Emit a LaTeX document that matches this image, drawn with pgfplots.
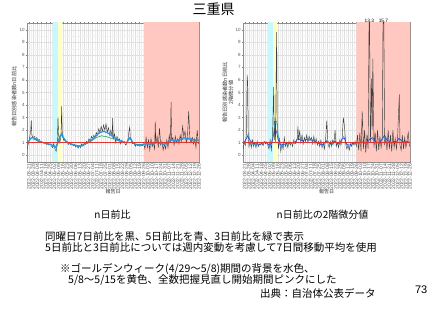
\documentclass[border=0pt]{standalone}
\usepackage{pgfplots}
\pgfplotsset{compat=1.18}
\usepackage{fontspec}
\setmainfont{Liberation Sans}
\newfontfamily\jp{Noto Sans CJK JP}
\definecolor{gwblue}{RGB}{200,248,255}
\definecolor{gwyellow}{RGB}{255,255,200}
\definecolor{pinkbg}{RGB}{255,200,192}
\definecolor{lineblue}{RGB}{40,150,230}
\definecolor{linegreen}{RGB}{40,160,90}
\definecolor{linered}{RGB}{225,55,50}
\definecolor{darkblue}{RGB}{40,60,220}
\definecolor{tealc}{RGB}{60,170,200}
\pgfplotsset{panel/.style={
  scale only axis, height=139pt, xmin=0, xmax=283, ymin=-0.55, ymax=10.55,
  axis line style={black!45, line width=0.5pt},
  grid=both, major grid style={black!12, line width=0.3pt}, minor grid style={black!6, line width=0.2pt},
  minor x tick num=1, minor y tick num=1,
  ytick={0,...,10}, xtick={3,10,...,283},
  xticklabels={2022-03-21,2022-03-28,2022-04-04,2022-04-11,2022-04-18,2022-04-25,2022-05-02,2022-05-09,2022-05-16,2022-05-23,2022-05-30,2022-06-06,2022-06-13,2022-06-20,2022-06-27,2022-07-04,2022-07-11,2022-07-18,2022-07-25,2022-08-01,2022-08-08,2022-08-15,2022-08-22,2022-08-29,2022-09-05,2022-09-12,2022-09-19,2022-09-26,2022-10-03,2022-10-10,2022-10-17,2022-10-24,2022-10-31,2022-11-07,2022-11-14,2022-11-21,2022-11-28,2022-12-05,2022-12-12,2022-12-19,2022-12-26},
  tick align=outside, major tick length=1.2pt, minor tick length=0pt, tick style={black!50, line width=0.3pt},
  /pgf/number format/assume math mode=true,
  x tick label style={rotate=90, anchor=east, font=\fontsize{5}{5}\selectfont, text=black!65, inner sep=0.8pt},
  y tick label style={font=\fontsize{4.5}{5}\selectfont, text=black!65, inner sep=1pt},
  xlabel={報告日}, xlabel style={font=\fontsize{5}{6}\selectfont\jp, text=black!80, at={(axis description cs:0.5,-0.216)}, anchor=center},
}}
\begin{document}
\begin{tikzpicture}[x=1pt,y=1pt]
\useasboundingbox (0,0) rectangle (427,320);
\fill[white] (0,0) rectangle (427,320);
\node[font=\jp\fontsize{14}{16}\selectfont] at (213.5,311) {三重県};
% left panel
\begin{axis}[panel, at={(27pt,158pt)}, anchor=south west, width=172pt,
  ylabel={報告日別感染者数n日前比},
  ylabel style={font=\fontsize{5.2}{6}\selectfont\jp, text=black!80, at={(axis description cs:-0.075,0.47)}, anchor=center}]
\addplot[draw=none, fill=gwblue] coordinates {(42,-1) (42,12) (51,12) (51,-1) (42,-1)};
\addplot[draw=none, fill=gwyellow] coordinates {(51,-1) (51,12) (58,12) (58,-1) (51,-1)};
\addplot[draw=none, fill=pinkbg] coordinates {(192,-1) (192,12) (290,12) (290,-1) (192,-1)};
\addplot[black!80, line width=0.4pt] coordinates {(0,0.45)(2,0.9)(4,1.3)(6,1.9)(7,2.8)(8,1.6)(10,1.4)(12,1.5)(14,1.3)(16,1.4)(18,1.2)(20,1.25)(22,1.1)(24,1.05)(26,1.0)(28,0.95)(30,1.0)(32,0.85)(34,0.95)(36,0.8)(38,0.9)(40,0.75)(42,0.6)(44,0.9)(46,0.5)(48,0.3)(50,1.2)(51,3.05)(52,1.6)(54,1.0)(56,1.5)(57,3.9)(58,1.9)(60,1.2)(62,1.3)(64,1.05)(66,1.1)(68,0.85)(70,1.0)(72,0.8)(74,0.9)(76,0.75)(78,0.85)(80,0.65)(82,0.8)(84,0.55)(86,0.75)(88,0.6)(90,0.9)(92,0.7)(94,0.95)(96,0.85)(98,1.1)(100,1.0)(102,1.3)(104,1.1)(106,1.5)(108,1.3)(110,1.6)(112,1.4)(114,1.8)(116,1.6)(118,2.1)(120,1.8)(122,2.3)(124,1.9)(126,2.4)(128,2.0)(130,2.5)(132,1.8)(134,2.2)(136,1.6)(138,2.0)(140,1.5)(141,2.95)(142,1.3)(144,1.7)(146,1.0)(148,1.5)(150,1.2)(152,1.3)(154,0.9)(156,1.2)(158,1.0)(160,1.1)(162,0.8)(164,0.9)(166,1.2)(168,2.0)(169,2.25)(170,1.4)(172,1.1)(174,0.9)(176,1.0)(178,0.7)(180,0.85)(182,0.75)(184,0.85)(186,0.7)(188,0.8)(190,0.75)(192,0.9)(194,0.5)(196,1.4)(198,0.6)(200,1.2)(202,0.4)(204,1.3)(206,0.7)(208,1.0)(210,0.5)(211,2.7)(212,0.9)(214,1.5)(216,0.6)(218,2.15)(220,0.8)(222,1.1)(224,0.4)(226,0.9)(228,0.5)(230,1.2)(232,0.6)(234,1.6)(236,1.0)(237,4.25)(238,1.2)(240,1.4)(242,0.8)(244,1.5)(246,1.0)(248,1.3)(250,0.9)(252,1.6)(254,1.1)(256,2.3)(258,1.5)(260,1.9)(262,1.0)(264,1.4)(266,3.5)(268,1.3)(270,1.0)(272,1.4)(274,0.9)(276,1.3)(278,0.6)(280,2.0)(282,0.9)};
\addplot[linegreen, line width=0.6pt] coordinates {(0,0.8)(3,1.15)(6,1.3)(9,1.3)(12,1.25)(15,1.2)(18,1.1)(21,1.05)(24,1.0)(27,1.0)(30,0.95)(33,0.9)(36,0.9)(39,0.85)(42,0.8)(45,0.75)(48,0.7)(51,1.1)(54,1.4)(57,1.6)(60,1.3)(63,1.1)(66,1.0)(69,0.95)(72,0.9)(75,0.85)(78,0.8)(81,0.8)(84,0.75)(87,0.75)(90,0.8)(93,0.85)(96,0.9)(99,0.95)(102,1.05)(105,1.1)(108,1.2)(111,1.3)(114,1.4)(117,1.45)(120,1.5)(123,1.55)(126,1.5)(129,1.5)(132,1.45)(135,1.4)(138,1.35)(141,1.35)(144,1.3)(147,1.2)(150,1.15)(153,1.1)(156,1.05)(159,1.0)(162,1.0)(165,1.05)(168,1.3)(171,1.2)(174,1.0)(177,0.9)(180,0.85)(183,0.85)(186,0.85)(189,0.85)(192,0.9)(195,0.9)(198,0.95)(201,0.9)(204,0.9)(207,0.95)(210,0.95)(213,1.0)(216,1.0)(219,0.95)(222,0.9)(225,0.9)(228,0.95)(231,1.0)(234,1.1)(237,1.2)(240,1.15)(243,1.1)(246,1.15)(249,1.15)(252,1.2)(255,1.25)(258,1.3)(261,1.3)(264,1.25)(267,1.3)(270,1.25)(273,1.2)(276,1.2)(279,1.2)(282,1.15)};
\addplot[lineblue, line width=1.2pt] coordinates {(0,0.7)(3,1.1)(6,1.35)(9,1.4)(12,1.35)(15,1.25)(18,1.15)(21,1.1)(24,1.05)(27,1.0)(30,0.95)(33,0.9)(36,0.88)(39,0.85)(42,0.75)(45,0.7)(48,0.6)(51,1.0)(54,1.5)(57,1.7)(60,1.4)(63,1.15)(66,1.05)(69,0.95)(72,0.9)(75,0.85)(78,0.8)(81,0.75)(84,0.7)(87,0.7)(90,0.75)(93,0.8)(96,0.9)(99,0.95)(102,1.05)(105,1.15)(108,1.3)(111,1.4)(114,1.55)(117,1.7)(120,1.8)(123,1.85)(126,1.9)(129,1.85)(132,1.8)(135,1.7)(138,1.6)(141,1.5)(144,1.4)(147,1.3)(150,1.2)(153,1.15)(156,1.1)(159,1.05)(162,1.0)(165,1.05)(168,1.4)(171,1.3)(174,1.0)(177,0.9)(180,0.85)(183,0.8)(186,0.8)(189,0.8)(192,0.85)(195,0.9)(198,0.95)(201,0.85)(204,0.9)(207,0.9)(210,0.95)(213,1.0)(216,1.0)(219,0.95)(222,0.9)(225,0.85)(228,0.9)(231,1.0)(234,1.1)(237,1.25)(240,1.2)(243,1.15)(246,1.15)(249,1.2)(252,1.25)(255,1.3)(258,1.4)(261,1.35)(264,1.3)(267,1.35)(270,1.3)(273,1.25)(276,1.2)(279,1.25)(282,1.2)};
\addplot[linered, line width=0.8pt] coordinates {(0,1) (283,1)};
\end{axis}
% right panel
\begin{axis}[panel, at={(243pt,158pt)}, anchor=south west, width=167pt,
  ylabel={報告日別感染者数n日前比\\2階微分値},
  ylabel style={font=\fontsize{5.2}{6}\selectfont\jp, text=black!80, align=center, at={(axis description cs:-0.09,0.5)}, anchor=center}]
\addplot[draw=none, fill=gwblue] coordinates {(42,-1) (42,12) (51,12) (51,-1) (42,-1)};
\addplot[draw=none, fill=gwyellow] coordinates {(51,-1) (51,12) (58,12) (58,-1) (51,-1)};
\addplot[draw=none, fill=pinkbg] coordinates {(192,-1) (192,12) (290,12) (290,-1) (192,-1)};
\addplot[black!75, line width=0.45pt] coordinates {(0,0.5)(2,1.0)(4,0.8)(6,1.8)(7,6.4)(8,5.7)(9,1.5)(10,0.7)(12,1.1)(14,0.6)(16,1.2)(18,0.7)(20,1.0)(22,0.6)(24,1.1)(26,0.7)(28,0.9)(30,0.8)(32,1.0)(34,0.75)(36,1.1)(38,0.9)(40,1.05)(42,0.8)(44,0.5)(46,1.2)(48,0.4)(50,1.5)(52,5.45)(53,1.2)(54,2.7)(55,1.0)(57,9.85)(58,2.6)(60,0.5)(62,1.3)(64,0.3)(66,0.9)(68,0.5)(70,1.4)(72,0.7)(74,1.0)(76,0.6)(78,1.1)(80,0.8)(82,1.0)(84,0.7)(86,1.2)(88,0.9)(90,1.0)(92,1.3)(93,2.3)(94,1.2)(96,1.9)(98,1.0)(100,1.6)(102,0.9)(104,1.4)(106,1.1)(108,1.6)(110,1.0)(112,1.5)(114,1.2)(116,1.4)(118,0.9)(120,1.5)(122,0.9)(124,1.3)(126,0.8)(128,1.1)(130,0.7)(132,1.2)(134,0.6)(136,1.0)(138,0.5)(140,1.3)(142,2.75)(144,0.9)(146,0.6)(148,1.1)(150,0.7)(152,1.2)(154,0.9)(156,2.0)(158,0.7)(160,1.0)(162,0.6)(164,1.2)(166,0.8)(168,1.3)(170,3.0)(172,2.3)(174,0.9)(176,0.5)(178,0.8)(180,0.4)(182,0.9)(184,0.7)(186,1.0)(188,0.8)(190,1.1)(192,0.7)(194,1.6)(196,0.4)(198,1.8)(200,0.3)(202,3.5)(204,0.5)(206,2.0)(208,0.2)(210,1.6)(212,0.5)(214,13.3)(216,1.0)(218,6.1)(219,2.0)(220,7.7)(222,0.6)(224,1.8)(226,0.3)(228,2.0)(230,0.4)(232,1.5)(234,0.6)(236,1.3)(238,15.7)(240,0.8)(242,1.4)(244,0.4)(246,2.0)(248,0.5)(250,1.6)(252,0.3)(254,2.0)(256,0.6)(258,1.3)(260,0.5)(262,1.4)(264,3.9)(265,4.85)(266,0.8)(268,0.4)(270,1.6)(272,0.5)(274,1.4)(276,0.6)(278,1.2)(280,1.8)(282,0.7)};
\addplot[tealc, line width=0.6pt] coordinates {(0,0.8)(3,1.0)(6,1.4)(9,1.7)(12,1.1)(15,0.9)(18,0.8)(21,0.9)(24,0.85)(27,0.8)(30,0.9)(33,0.95)(36,1.0)(39,1.05)(42,0.8)(45,0.6)(48,0.9)(51,1.5)(54,2.6)(57,2.7)(60,1.5)(63,0.7)(66,0.6)(69,0.8)(72,0.9)(75,0.85)(78,0.9)(81,0.95)(84,0.9)(87,0.95)(90,1.1)(93,1.4)(96,1.35)(99,1.2)(102,1.15)(105,1.25)(108,1.3)(111,1.2)(114,1.3)(117,1.25)(120,1.2)(123,1.1)(126,1.0)(129,0.9)(132,0.8)(135,0.75)(138,0.85)(141,1.2)(144,1.1)(147,0.85)(150,0.8)(153,0.9)(156,1.2)(159,0.9)(162,0.8)(165,0.9)(168,1.3)(171,1.5)(174,1.0)(177,0.7)(180,0.65)(183,0.8)(186,0.9)(189,0.95)(192,1.0)(195,0.95)(198,0.9)(201,1.1)(204,1.0)(207,0.9)(210,1.0)(213,1.2)(216,1.4)(219,1.3)(222,1.1)(225,1.0)(228,0.95)(231,1.0)(234,1.1)(237,1.5)(240,1.3)(243,1.1)(246,1.0)(249,1.1)(252,1.0)(255,0.95)(258,1.1)(261,1.0)(264,1.3)(267,1.2)(270,1.0)(273,1.05)(276,1.0)(279,1.1)(282,1.0)};
\addplot[darkblue, line width=0.5pt] coordinates {(0,0.9)(4,1.2)(8,1.5)(12,1.2)(16,0.95)(20,0.9)(24,0.9)(28,0.85)(32,0.95)(36,1.0)(40,1.0)(44,0.8)(48,0.9)(52,1.6)(56,2.0)(60,1.2)(64,0.8)(68,0.85)(72,0.9)(76,0.95)(80,0.95)(84,1.0)(88,1.0)(92,1.3)(96,1.25)(100,1.15)(104,1.2)(108,1.25)(112,1.2)(116,1.2)(120,1.15)(124,1.05)(128,0.95)(132,0.85)(136,0.85)(140,1.1)(144,1.05)(148,0.9)(152,0.95)(156,1.1)(160,0.9)(164,0.95)(168,1.3)(172,1.35)(176,0.85)(180,0.8)(184,0.9)(188,0.95)(192,1.0)(196,0.95)(200,1.05)(204,1.0)(208,0.95)(212,1.1)(216,1.3)(220,1.4)(224,1.1)(228,1.0)(232,1.05)(236,1.3)(240,1.6)(244,1.2)(248,1.1)(252,1.0)(256,1.1)(260,1.05)(264,1.35)(268,1.2)(272,1.05)(276,1.05)(280,1.1)};
\addplot[linered, line width=0.8pt] coordinates {(0,1) (283,1)};
\coordinate (la) at (axis cs:214,10.55);
\coordinate (lb) at (axis cs:238,10.55);
\end{axis}
\node[anchor=south, font=\fontsize{4.8}{5}\selectfont, inner sep=0.6pt] at (la) {13.3};
\node[anchor=south, font=\fontsize{4.8}{5}\selectfont, inner sep=0.6pt] at (lb) {15.7};
% texts
\node[font=\jp\fontsize{10}{12}\selectfont] at (112.5,105) {n日前比};
\node[font=\jp\fontsize{10}{12}\selectfont] at (322.5,105) {n日前比の2階微分値};
\node[font=\jp\fontsize{10.5}{12}\selectfont, anchor=west, inner sep=0pt] at (45,83) {同曜日7日前比を黒、5日前比を青、3日前比を緑で表示};
\node[font=\jp\fontsize{10.5}{12}\selectfont, anchor=west, inner sep=0pt] at (45,72.5) {5日前比と3日前比については週内変動を考慮して7日間移動平均を使用};
\node[font=\jp\fontsize{10.5}{12}\selectfont, anchor=west, inner sep=0pt] at (60,51) {※ゴールデンウィーク(4/29～5/8)期間の背景を水色、};
\node[font=\jp\fontsize{10.5}{12}\selectfont, anchor=west, inner sep=0pt] at (68,40) {5/8～5/15を黄色、全数把握見直し開始期間ピンクにした};
\node[font=\jp\fontsize{10.5}{12}\selectfont, anchor=west, inner sep=0pt] at (260,27) {出典：自治体公表データ};
\node[font=\fontsize{11}{12}\selectfont, anchor=east, inner sep=0pt] at (427.5,30) {73};
\end{tikzpicture}
\end{document}
